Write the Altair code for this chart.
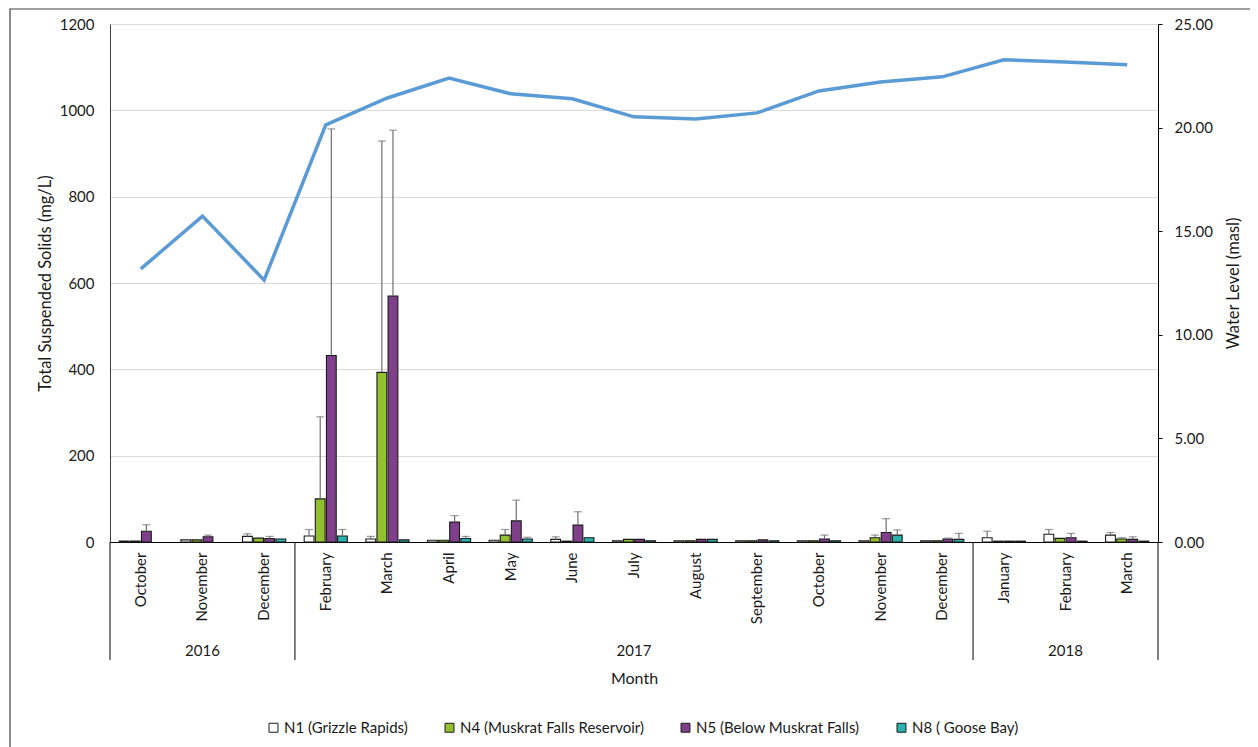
import altair as alt
import pandas as pd

FONT = "Lato"
TXT = "#1a1a1a"

months = ["October", "November", "December", "February", "March", "April", "May", "June",
          "July", "August", "September", "October", "November", "December",
          "January", "February", "March"]
years = [2016, 2016, 2016] + [2017] * 11 + [2018, 2018, 2018]

sites = ["N1 (Grizzle Rapids)", "N4 (Muskrat Falls Reservoir)",
         "N5 (Below Muskrat Falls)", "N8 ( Goose Bay)"]
colors = ["#FFFFFF", "#93C02F", "#7F3F8B", "#2BB1B0"]

n1 = [2, 5, 13, 14, 7, 4, 4, 6, 3, 3, 3, 3, 3, 3, 10, 18, 16]
n1_top = [None, None, 19, 29, 13, None, None, 12, None, None, None, None, None, None, 25, 29, 22]
n4 = [2, 5, 9, 100, 393, 4, 16, 2, 6, 3, 3, 3, 10, 3, 2, 8.5, 7]
n4_top = [None, None, None, 290, 929, None, 29, None, None, None, None, None, 16, None, None, None, 10]
n5 = [25, 12, 8, 432, 570, 46, 49, 39, 6, 6, 5, 7, 22, 7, 2, 10, 6]
n5_top = [40, 16, 13, 957, 954, 61, 97, 70, None, None, None, 16, 54, 9, None, 20, 12]
n8 = [None, None, 7, 14, 5, 8, 7, 10, 3, 6, 3, 3, 16, 6, 2, 2, 2]
n8_top = [None, None, None, 29, None, 13, 11, None, None, None, None, None, 28, 20, None, None, None]

water = [13.18, 15.73, 12.64, 20.13, 21.43, 22.39, 21.63, 21.39, 20.52, 20.42, 20.71,
         21.77, 22.2, 22.45, 23.27, 23.17, 23.03]

year_labels = ["2016", "2017", "2018"]
year_start = [0, 3, 14]
year_end = [3, 14, 17]

keys = [f"{m}|{y}" for m, y in zip(months, years)]

rows = []
for site, vals, tops in zip(sites, [n1, n4, n5, n8], [n1_top, n4_top, n5_top, n8_top]):
    for i, (v, t) in enumerate(zip(vals, tops)):
        if v is None:
            continue
        rows.append({"key": keys[i], "site": site, "tss": v, "top": t})
df = pd.DataFrame(rows)
df_err = df[df["top"].notna()].copy()

line_df = pd.DataFrame({"key": keys, "water": water, "idx": list(range(len(keys)))})

sep_df = pd.DataFrame({"pos": sorted(set(year_start + year_end))})
year_df = pd.DataFrame({"label": year_labels,
                        "pos": [(s + e) / 2 for s, e in zip(year_start, year_end)]})
one = pd.DataFrame({"a": [0]})

x_enc = alt.X(
    "key:N",
    sort=keys,
    scale=alt.Scale(domain=keys, paddingInner=0.3, paddingOuter=0.15),
    title="Month",
    axis=alt.Axis(
        labelExpr="split(datum.label, '|')[0]",
        labelAngle=270, ticks=False, tickSize=0, labelPadding=10,
        domainColor="#000", domainWidth=1, grid=False,
        labelFontSize=15, titleFontSize=16, titleFontWeight="normal",
        titleY=136, titleBaseline="middle",
    ),
)
xo = alt.XOffset("site:N", sort=sites,
                 scale=alt.Scale(domain=sites, paddingInner=0.12, paddingOuter=0))

y_axis = alt.Axis(
    values=list(range(0, 1201, 200)), format="d", grid=True, gridColor="#d9d9d9", gridWidth=1,
    ticks=False, tickSize=0, labelPadding=16, domainColor="#404040", domainWidth=1,
    labelFontSize=15, titleFontSize=16.5, titleFontWeight="normal",
    titleX=-65, titleY=259, titleAngle=270, titleBaseline="middle", titleAlign="center",
)
y_scale = alt.Scale(domain=[0, 1200], nice=False)
y_title = "Total Suspended Solids (mg/L)"

bars = alt.Chart(df).mark_bar(stroke="#1a1a1a", strokeWidth=1.1).encode(
    x=x_enc,
    xOffset=xo,
    y=alt.Y("tss:Q", scale=y_scale, axis=y_axis, title=y_title),
    color=alt.Color(
        "site:N", sort=sites, scale=alt.Scale(domain=sites, range=colors),
        legend=alt.Legend(
            title=None, orient="none", legendX=156, legendY=696, direction="horizontal",
            symbolType="square", symbolSize=80, symbolStrokeColor="#1a1a1a",
            symbolStrokeWidth=1, labelFont=FONT, labelFontSize=15, labelColor=TXT,
            labelLimit=400, columnPadding=34, labelOffset=3,
        ),
    ),
)

err = alt.Chart(df_err).mark_rule(color="#6f6f6f", strokeWidth=1.2).encode(
    x=x_enc,
    xOffset=xo,
    y=alt.Y("tss:Q", scale=y_scale, axis=y_axis, title=y_title),
    y2="top:Q",
)

caps = alt.Chart(df_err).mark_tick(color="#6f6f6f", thickness=1.2, size=8).encode(
    x=x_enc,
    xOffset=xo,
    y=alt.Y("top:Q", scale=y_scale, axis=y_axis, title=y_title),
)

line = alt.Chart(line_df).mark_line(color="#5B9BD5", strokeWidth=3.5).encode(
    x=x_enc,
    y=alt.Y(
        "water:Q", scale=alt.Scale(domain=[0, 25], nice=False), title="Water Level (masl)",
        axis=alt.Axis(
            orient="right", format=".2f", values=[0, 5, 10, 15, 20, 25], grid=False,
            tickSize=4, tickColor="#000", domainColor="#000", domainWidth=1,
            labelPadding=12, labelFontSize=15, titleFontSize=16.5, titleFontWeight="normal",
            titleAngle=270, titleX=75, titleY=259, titleBaseline="middle", titleAlign="center",
        ),
    ),
    order=alt.Order("idx:Q"),
)

deco_x = alt.X("pos:Q", scale=alt.Scale(domain=[0, 17], nice=False, zero=True), axis=None)

frame = alt.Chart(one).mark_rect(fillOpacity=0, stroke="#404040", strokeWidth=1.2).encode(
    x=alt.value(-100), x2=alt.value(1400), y=alt.value(-15), y2=alt.value(900)
)
seps = alt.Chart(sep_df).mark_rule(color="#000", strokeWidth=1).encode(
    x=deco_x, y=alt.value(518), y2=alt.value(636)
)
yrs = alt.Chart(year_df).mark_text(font=FONT, fontSize=15, color=TXT).encode(
    x=deco_x, y=alt.value(627), text="label:N"
)

main = alt.layer(alt.layer(bars, err, caps), line).resolve_scale(y="independent")
deco = alt.layer(frame, seps, yrs)

chart = (
    alt.layer(main, deco)
    .resolve_scale(x="independent")
    .properties(
        width=1048, height=518,
        autosize=alt.AutoSizeParams(type="none"),
        padding={"left": 102, "top": 16, "right": 92, "bottom": 205},
    )
    .configure(font=FONT)
    .configure_view(stroke="transparent")
    .configure_axis(labelFont=FONT, titleFont=FONT, labelColor=TXT, titleColor=TXT)
)

chart.save("out.html", embed_options={"renderer": "svg", "actions": False})
